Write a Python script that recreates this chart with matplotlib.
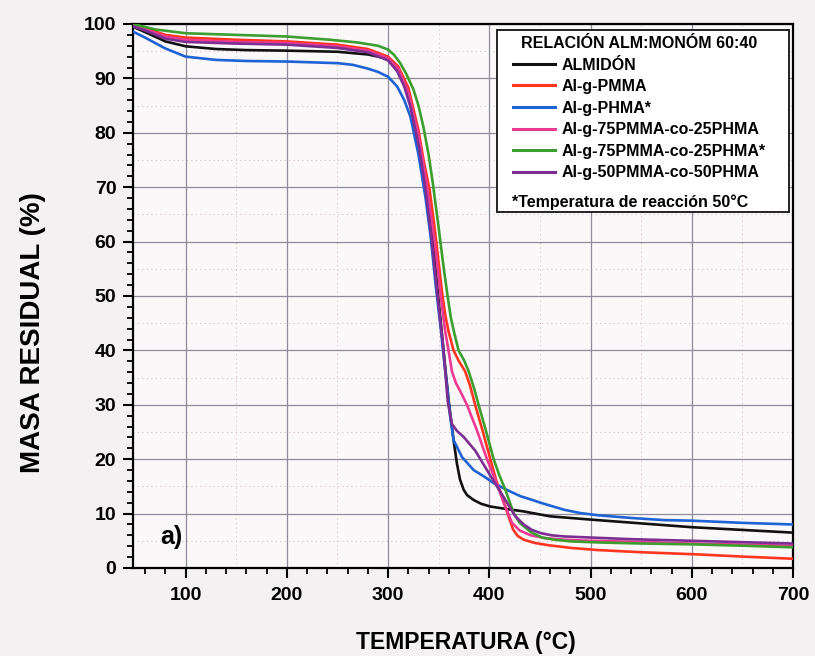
import numpy as np
import matplotlib.pyplot as plt
from matplotlib.patches import Rectangle

plt.rcParams['font.family'] = ['Liberation Sans', 'DejaVu Sans']
plt.rcParams['font.weight'] = 'bold'

# TGA curves: temperature (C) and residual mass (%)
t_almidon = [48, 60, 80, 100, 130, 160, 200, 250, 280, 300, 310, 320, 330, 337, 342, 346, 350,
             355, 360, 364.7, 368, 371, 374.6, 378, 384.5, 392, 401, 415, 434, 460, 500, 550, 600,
             650, 700]
m_almidon = [99.5, 98.5, 96.8, 95.9, 95.4, 95.2, 95.1, 94.9, 94.4, 93.6, 91.5, 87, 79, 71, 64, 57, 49,
             39.5, 30.5, 23.5, 19.2, 16.3, 14.4, 13.4, 12.5, 11.8, 11.3, 10.9, 10.4, 9.5, 8.9, 8.2,
             7.5, 7.0, 6.5]

t_pmma = [48, 60, 80, 100, 150, 200, 250, 280, 300, 310, 320, 330, 335, 341, 346, 350, 353.6, 356.5,
          359.7, 364.7, 370, 376, 381, 386, 394, 401, 407, 412.5, 419, 423.4, 428, 434, 445, 458, 480,
          507, 550, 606, 650, 700]
m_pmma = [99.8, 99.2, 98.0, 97.5, 97.1, 96.8, 96.2, 95.4, 94.0, 92.2, 88.3, 80.5, 75, 69.5, 62.5, 56,
          50.2, 46.5, 43.5, 40, 38, 36.2, 33.5, 30, 24.8, 20, 16, 13.2, 9.5, 7.1, 5.9, 5.2, 4.6, 4.2, 3.7,
          3.3, 2.9, 2.5, 2.1, 1.7]

t_phma = [48, 60, 80, 100, 130, 160, 200, 250, 265, 280, 290, 300, 309, 316, 322, 330, 337, 342, 347,
          352, 356, 359, 361.4, 364.7, 373, 384.5, 395, 404.3, 418, 430.7, 441, 450.5, 474, 490, 507,
          540, 573, 600, 650, 700]
m_phma = [98.6, 97.5, 95.5, 94.0, 93.4, 93.2, 93.1, 92.8, 92.5, 91.8, 91.2, 90.3, 88.5, 86, 83, 76, 68,
          61, 52, 44, 37, 32, 27.7, 23.5, 20.4, 18, 16.8, 15.6, 14.3, 13.2, 12.6, 12, 10.7, 10.1, 9.7,
          9.2, 8.8, 8.7, 8.3, 8.0]

t_75_25 = [48, 60, 80, 100, 150, 200, 250, 280, 300, 310, 320, 330, 336, 340, 346, 352, 356.4, 359.7,
           363, 367, 371.3, 377.9, 387.8, 397.7, 406, 414.2, 422.4, 430, 441, 455, 474, 500, 550, 600,
           650, 700]
m_75_25 = [99.7, 99.0, 97.7, 97.1, 96.7, 96.5, 95.9, 95.1, 93.7, 91.8, 87.5, 79.5, 73, 68, 60, 50, 43.5,
           40, 36.2, 34, 32.5, 30, 25.3, 20, 16.2, 12, 8.3, 6.9, 6.0, 5.5, 5.2, 5.0, 4.8, 4.5, 4.3, 4.1]

t_75_25b = [48, 70, 100, 150, 200, 243, 270, 290, 300, 306, 312, 318, 325, 330, 335, 340, 344, 350,
            354, 358.6, 362, 365, 369.6, 375, 379.5, 385, 389.4, 397, 404.3, 410, 415.8, 420, 424, 430,
            441, 452, 464, 480, 507, 550, 600, 650, 700]
m_75_25b = [100, 99.0, 98.3, 98.0, 97.7, 97.1, 96.6, 96.0, 95.3, 94.3, 92.8, 90.8, 88, 85, 81, 76, 71,
            62.5, 56.5, 50.2, 46, 43.5, 40, 38.2, 36.2, 33, 30, 25, 20, 17, 14.4, 12.2, 10.1, 8.3, 6.6,
            5.6, 5.2, 4.9, 4.7, 4.5, 4.35, 4.1, 3.8]

t_50_50 = [48, 60, 80, 100, 150, 200, 250, 280, 300, 309, 316, 322, 330.5, 337, 342, 346, 350, 354,
           357, 359, 363, 368, 374.6, 386, 397.7, 407.6, 417.5, 425.7, 434, 442, 451, 462, 474, 500,
           540, 600, 650, 700]
m_50_50 = [99.6, 98.8, 97.3, 96.7, 96.4, 96.2, 95.6, 94.8, 93.3, 91.3, 88.5, 84.8, 77.4, 69.5, 62.1, 55,
           48, 41.5, 35, 30.5, 26.5, 25.2, 24.1, 21.6, 18, 15, 12, 9.5, 8.0, 7.0, 6.4, 6.0, 5.8, 5.6,
           5.3, 5.0, 4.75, 4.5]

series = [
    ('ALMIDÓN', t_almidon, m_almidon, '#111111'),
    ('Al-g-PMMA', t_pmma, m_pmma, '#ff3520'),
    ('Al-g-PHMA*', t_phma, m_phma, '#1f62d4'),
    ('Al-g-75PMMA-co-25PHMA', t_75_25, m_75_25, '#ec3a92'),
    ('Al-g-75PMMA-co-25PHMA*', t_75_25b, m_75_25b, '#3c9e2e'),
    ('Al-g-50PMMA-co-50PHMA', t_50_50, m_50_50, '#7d2e92'),
]

fig = plt.figure(figsize=(8.15, 6.56), dpi=100, facecolor='#f3f1f2')
ax = fig.add_axes([133 / 815, 1 - 568 / 656, 660 / 815, 544 / 656])
ax.set_facecolor('#fbf8fa')

# faint dotted grid halfway between the major lines
for xv in np.arange(150, 700, 100):
    ax.axvline(xv, color='#d9bfcc', lw=0.8, ls=(0, (1, 3)), zorder=0)
for yv in np.arange(5, 100, 10):
    ax.axhline(yv, color='#d9bfcc', lw=0.8, ls=(0, (1, 3)), zorder=0)
ax.grid(True, which='major', color='#8d8c9a', lw=0.9, zorder=0)

for name, t, m, c in series:
    ax.plot(t, m, color=c, lw=1.9, label=name, zorder=3, solid_joinstyle='round')

ax.set_xlim(48, 700)
ax.set_ylim(0, 100)
ax.set_xticks(np.arange(100, 701, 100))
ax.set_yticks(np.arange(0, 101, 10))
ax.set_xticks(np.arange(60, 701, 20), minor=True)
ax.set_yticks(np.arange(0, 101, 2), minor=True)
ax.tick_params(which='major', direction='out', length=7, width=1.5, labelsize=14, pad=5)
ax.tick_params(which='minor', direction='out', length=4, width=1.3)
ax.tick_params(axis='x', pad=7)
for lab in ax.get_xticklabels() + ax.get_yticklabels():
    lab.set_fontweight('bold')
for sp in ax.spines.values():
    sp.set_linewidth(1.6)
ax.set_axisbelow(True)

fig.text(466 / 815, 1 - 643 / 656, 'TEMPERATURA (°C)', fontsize=16.5, fontweight='bold',
         ha='center', va='center')
fig.text(33 / 815, 1 - 333 / 656, 'MASA RESIDUAL (%)', fontsize=20, fontweight='bold',
         ha='center', va='center', rotation=90)

ax.text(75, 5.7, 'a)', fontsize=18, fontweight='bold', ha='left', va='center')

leg = ax.legend(loc='upper left', bbox_to_anchor=(0.576, 0.978), frameon=False,
                title='RELACIÓN ALM:MONÓM 60:40', fontsize=11.5, title_fontsize=11.5,
                handlelength=2.6, handletextpad=0.45, labelspacing=0.41, borderpad=0,
                borderaxespad=0)
leg.get_title().set_fontweight('bold')
for txt in leg.get_texts():
    txt.set_fontweight('bold')
for ln in leg.get_lines():
    ln.set_linewidth(2.2)
leg.set_zorder(6)

ax.text(0.574, 0.672, '*Temperatura de reacción 50°C', transform=ax.transAxes, fontsize=11.5,
        fontweight='bold', ha='left', va='center', zorder=6)
ax.add_patch(Rectangle((0.552, 0.655), 0.442, 0.334, transform=ax.transAxes, facecolor='white',
                       edgecolor='#222222', lw=1.4, zorder=5))

fig.savefig('out.png', dpi=100, facecolor=fig.get_facecolor())
